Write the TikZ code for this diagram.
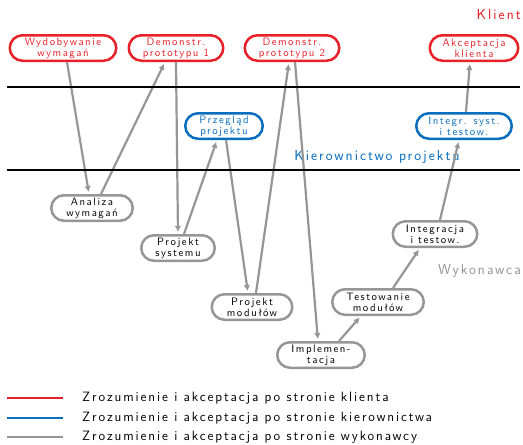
\documentclass[tikz,border=0pt]{standalone}
\usepackage{fontspec}
\setsansfont{Latin Modern Sans}[LetterSpace=14]
\usetikzlibrary{arrows.meta}
\definecolor{kred}{RGB}{232,32,40}
\definecolor{kblue}{RGB}{10,110,190}
\definecolor{kgray}{RGB}{150,150,150}

\tikzset{
  stage/.style={draw, line width=2.5pt, rounded corners=12.7pt, minimum height=25.5pt,
    align=center, inner sep=1pt, font=\sffamily\fontsize{10.8}{11.2}\selectfont},
  client/.style={stage, draw=kred, text=kred},
  manager/.style={stage, draw=kblue, text=kblue},
  contractor/.style={stage, draw=kgray, text=black},
  flow/.style={draw=kgray, line width=2.2pt, -{Latex[length=6pt,width=6.5pt]}, shorten >=2pt},
  divider/.style={line width=2.5pt},
  band/.style={font=\sffamily\fontsize{14.5}{16}\selectfont},
  legline/.style={line width=2.5pt},
  legtext/.style={font=\sffamily\fontsize{13.5}{15}\selectfont, anchor=west, inner sep=0pt}
}

\begin{document}
\begin{tikzpicture}[x=1pt, y=-1pt]
\useasboundingbox (0,0) rectangle (523,445);

% lane labels
\node[band, text=kred, anchor=east, inner sep=0pt] (lklient) at (521,15) {Klient};
\node[band, text=kblue, inner sep=0pt] (lkier) at (377,157) {Kierownictwo projektu};
\node[band, text=kgray, anchor=east, inner sep=0pt] (lwyk) at (521,271) {Wykonawca};

% client lane
\node[client, minimum width=106.5pt] (wyd) at (63,48) {Wydobywanie\\wymagań};
\node[client, minimum width=94.5pt] (p1) at (176,48) {Demonstr.\\prototypu 1};
\node[client, minimum width=94.5pt] (p2) at (292,48) {Demonstr.\\prototypu 2};
\node[client, minimum width=88.5pt] (akc) at (474,48) {Akceptacja\\klienta};

% management lane
\node[manager, minimum width=77.5pt] (prz) at (224,126) {Przegląd\\projektu};
\node[manager, minimum width=95.5pt] (isyst) at (464,126) {Integr. syst.\\i testow.};

% contractor lane
\node[contractor, minimum width=81.5pt] (anal) at (92,208) {Analiza\\wymagań};
\node[contractor, minimum width=73.5pt] (psys) at (178,248) {Projekt\\systemu};
\node[contractor, minimum width=84.5pt] (integ) at (435,234) {Integracja\\i testow.};
\node[contractor, minimum width=80.5pt] (pmod) at (252,307) {Projekt\\modułów};
\node[contractor, minimum width=91.5pt] (test) at (378,302) {Testowanie\\modułów};
\node[contractor, minimum width=87.5pt] (impl) at (321,355) {Implemen-\\tacja};

% process flow
\draw[flow] ([xshift=4pt]wyd.south) -- ([xshift=-3pt]anal.north);
\draw[flow] ([xshift=9pt]anal.north) -- ([xshift=-11pt]p1.south);
\draw[flow] (p1.south) -- (psys.north);
\draw[flow] ([xshift=6pt]psys.north) -- ([xshift=-7pt]prz.south);
\draw[flow] ([xshift=2pt]prz.south) -- ([xshift=-4pt]pmod.north);
\draw[flow] ([xshift=4pt]pmod.north) -- ([xshift=-3pt]p2.south);
\draw[flow] ([xshift=3pt]p2.south) -- ([xshift=-3pt]impl.north);
\draw[flow] ([xshift=18pt]impl.north) -- ([xshift=-17pt]test.south);
\draw[flow] ([xshift=15pt]test.north) -- ([xshift=-15pt]integ.south);
\draw[flow] ([xshift=5pt]integ.north) -- ([xshift=-5pt]isyst.south);
\draw[flow] ([xshift=2pt]isyst.north) -- ([xshift=-4pt]akc.south);

% swimlane dividers, drawn over the flow lines
\coordinate (d1l) at (7,87);  \coordinate (d1r) at (520,87);
\coordinate (d2l) at (7,170); \coordinate (d2r) at (520,170);
\draw[divider] (d1l) -- (d1r);
\draw[divider] (d2l) -- (d2r);

% legend
\coordinate (la1) at (7,398);  \coordinate (lb1) at (63,398);
\coordinate (la2) at (7,418);  \coordinate (lb2) at (63,418);
\coordinate (la3) at (7,437);  \coordinate (lb3) at (63,437);
\draw[legline, kred] (la1) -- (lb1);
\draw[legline, kblue] (la2) -- (lb2);
\draw[legline, kgray] (la3) -- (lb3);
\node[legtext] (t1) at (82,398) {Zrozumienie i akceptacja po stronie klienta};
\node[legtext] (t2) at (82,418) {Zrozumienie i akceptacja po stronie kierownictwa};
\node[legtext] (t3) at (82,437) {Zrozumienie i akceptacja po stronie wykonawcy};
\end{tikzpicture}
\end{document}
